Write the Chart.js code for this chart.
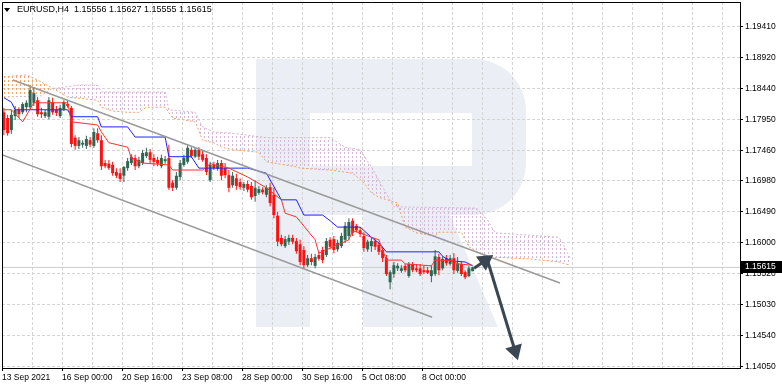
<!DOCTYPE html>
<html>
<head>
<meta charset="utf-8">
<script src="https://cdn.jsdelivr.net/npm/chart.js@4.4.1/dist/chart.umd.min.js"></script>
<style>
  html, body { margin: 0; padding: 0; background: #fff; }
  #wrap { width: 782px; height: 389px; }
</style>
</head>
<body>
<div id="wrap"><canvas id="chart" width="782" height="389"></canvas></div>
<script>
// EURUSD H4, one candle every 4 hours from 13 Sep 2021
const opens = [
  1.1806, 1.1797, 1.1778, 1.1800, 1.1810, 1.1806, 1.1814, 1.1814, 1.1821, 1.1825,
  1.1806, 1.1800, 1.1799, 1.1822, 1.1810, 1.1800, 1.1811, 1.1819, 1.1813, 1.1766,
  1.1753, 1.1755, 1.1753, 1.1762, 1.1753, 1.1773, 1.1762, 1.1726, 1.1725, 1.1723,
  1.1712, 1.1710, 1.1706, 1.1718, 1.1726, 1.1734, 1.1721, 1.1726, 1.1737, 1.1743,
  1.1734, 1.1731, 1.1721, 1.1729, 1.1734, 1.1695, 1.1687, 1.1704, 1.1723, 1.1728,
  1.1747, 1.1736, 1.1747, 1.1740, 1.1734, 1.1699, 1.1723, 1.1717, 1.1726, 1.1718,
  1.1707, 1.1691, 1.1702, 1.1696, 1.1687, 1.1693, 1.1690, 1.1674, 1.1679, 1.1684,
  1.1676, 1.1688, 1.1676, 1.1643, 1.1608, 1.1595, 1.1602, 1.1608, 1.1603, 1.1598,
  1.1589, 1.1565, 1.1576, 1.1564, 1.1581, 1.1589, 1.1581, 1.1605, 1.1606, 1.1590,
  1.1595, 1.1605, 1.1611, 1.1635, 1.1627, 1.1620, 1.1611, 1.1590, 1.1595, 1.1603,
  1.1597, 1.1589, 1.1576, 1.1538, 1.1551, 1.1560, 1.1556, 1.1564, 1.1548, 1.1567,
  1.1560, 1.1560, 1.1557, 1.1557, 1.1548, 1.1551, 1.1578, 1.1560, 1.1576, 1.1567,
  1.1576, 1.1556, 1.1567, 1.1554, 1.1548, 1.15556
];
const highs = [
  1.1813, 1.1802, 1.1810, 1.1816, 1.1814, 1.1822, 1.1825, 1.1849, 1.1846, 1.1830,
  1.1813, 1.1810, 1.1830, 1.1829, 1.1816, 1.1818, 1.1825, 1.1825, 1.1816, 1.1770,
  1.1767, 1.1762, 1.1769, 1.1767, 1.1781, 1.1781, 1.1770, 1.1731, 1.1731, 1.1728,
  1.1718, 1.1718, 1.1721, 1.1734, 1.1740, 1.1739, 1.1736, 1.1747, 1.1750, 1.1748,
  1.1740, 1.1736, 1.1739, 1.1737, 1.1755, 1.1699, 1.1712, 1.1731, 1.1739, 1.1755,
  1.1751, 1.1750, 1.1751, 1.1747, 1.1740, 1.1728, 1.1728, 1.1731, 1.1731, 1.1726,
  1.1715, 1.1712, 1.1709, 1.1702, 1.1696, 1.1698, 1.1696, 1.1699, 1.1690, 1.1688,
  1.1691, 1.1695, 1.1687, 1.1649, 1.1613, 1.1611, 1.1613, 1.1613, 1.1608, 1.1605,
  1.1595, 1.1581, 1.1583, 1.1583, 1.1586, 1.1594, 1.1608, 1.1609, 1.1611, 1.1605,
  1.1616, 1.1633, 1.1639, 1.1639, 1.1630, 1.1625, 1.1617, 1.1605, 1.1608, 1.1606,
  1.1602, 1.1594, 1.1581, 1.1557, 1.1570, 1.1568, 1.1565, 1.1567, 1.1570, 1.1570,
  1.1567, 1.1567, 1.1564, 1.1562, 1.1564, 1.1589, 1.1583, 1.1579, 1.1581, 1.1581,
  1.1584, 1.1578, 1.1570, 1.1557, 1.1564, 1.15627
];
const lows = [
  1.1770, 1.1769, 1.1772, 1.1794, 1.1797, 1.1803, 1.1806, 1.1811, 1.1816, 1.1799,
  1.1797, 1.1797, 1.1795, 1.1802, 1.1800, 1.1797, 1.1808, 1.1813, 1.1751, 1.1747,
  1.1748, 1.1750, 1.1748, 1.1751, 1.1750, 1.1758, 1.1715, 1.1718, 1.1715, 1.1706,
  1.1702, 1.1696, 1.1696, 1.1714, 1.1723, 1.1715, 1.1718, 1.1723, 1.1734, 1.1726,
  1.1721, 1.1721, 1.1718, 1.1725, 1.1684, 1.1682, 1.1684, 1.1699, 1.1720, 1.1725,
  1.1734, 1.1734, 1.1731, 1.1728, 1.1707, 1.1696, 1.1715, 1.1714, 1.1699, 1.1702,
  1.1680, 1.1687, 1.1684, 1.1684, 1.1682, 1.1680, 1.1668, 1.1665, 1.1676, 1.1677,
  1.1672, 1.1658, 1.1639, 1.1595, 1.1595, 1.1592, 1.1597, 1.1598, 1.1583, 1.1565,
  1.1560, 1.1562, 1.1565, 1.1560, 1.1572, 1.1568, 1.1578, 1.1590, 1.1584, 1.1586,
  1.1592, 1.1600, 1.1605, 1.1611, 1.1617, 1.1609, 1.1586, 1.1586, 1.1586, 1.1589,
  1.1581, 1.1570, 1.1548, 1.1527, 1.1545, 1.1556, 1.1553, 1.1554, 1.1545, 1.1554,
  1.1554, 1.1548, 1.1551, 1.1551, 1.1538, 1.1548, 1.1549, 1.1557, 1.1564, 1.1564,
  1.1551, 1.1553, 1.1548, 1.1543, 1.1546, 1.15555
];
const closes = [
  1.1778, 1.1773, 1.1802, 1.1810, 1.1803, 1.1819, 1.1821, 1.1841, 1.1836, 1.1803,
  1.1803, 1.1806, 1.1825, 1.1806, 1.1805, 1.1813, 1.1822, 1.1816, 1.1756, 1.1753,
  1.1762, 1.1758, 1.1764, 1.1755, 1.1775, 1.1762, 1.1721, 1.1721, 1.1718, 1.1710,
  1.1706, 1.1701, 1.1720, 1.1729, 1.1736, 1.1721, 1.1731, 1.1742, 1.1743, 1.1731,
  1.1728, 1.1725, 1.1734, 1.1732, 1.1687, 1.1687, 1.1706, 1.1726, 1.1734, 1.1750,
  1.1737, 1.1747, 1.1736, 1.1731, 1.1712, 1.1723, 1.1718, 1.1726, 1.1706, 1.1707,
  1.1687, 1.1706, 1.1690, 1.1688, 1.1693, 1.1684, 1.1672, 1.1687, 1.1685, 1.1680,
  1.1687, 1.1663, 1.1644, 1.1602, 1.1598, 1.1606, 1.1608, 1.1602, 1.1587, 1.1570,
  1.1565, 1.1576, 1.1570, 1.1578, 1.1575, 1.1573, 1.1603, 1.1594, 1.1589, 1.1600,
  1.1611, 1.1627, 1.1633, 1.1616, 1.1620, 1.1614, 1.1592, 1.1602, 1.1603, 1.1594,
  1.1586, 1.1576, 1.1551, 1.1554, 1.1565, 1.1564, 1.1560, 1.1557, 1.1567, 1.1557,
  1.1557, 1.1551, 1.1554, 1.1553, 1.1557, 1.1579, 1.1557, 1.1575, 1.1568, 1.1576,
  1.1557, 1.1568, 1.1551, 1.1546, 1.1560, 1.15615
];

// Ichimoku lines, read at their turning points (bar index, price)
const tenkanIdx = [0, 2, 5, 8, 17, 18, 25, 26, 28, 33, 34, 37, 44, 45, 53, 55, 60, 65, 70, 74, 75, 78, 83, 84, 92, 93, 95, 98, 100, 102, 106, 107, 114, 115, 120, 121, 125];
const tenkanVal = [1.1810, 1.1810, 1.1791, 1.1821, 1.1821, 1.1791, 1.1786, 1.1775, 1.1758, 1.1751, 1.1734, 1.1726, 1.1723, 1.1715, 1.1715, 1.1725, 1.1718, 1.1704, 1.1687, 1.1668, 1.1647, 1.1641, 1.1605, 1.1584, 1.1605, 1.1619, 1.1616, 1.1609, 1.1605, 1.1573, 1.1573, 1.1567, 1.1564, 1.1573, 1.1572, 1.1567, 1.1565];
const kijunIdx = [0, 2, 3, 17, 18, 25, 26, 33, 35, 43, 44, 50, 52, 65, 70, 74, 78, 80, 85, 87, 89, 95, 98, 100, 102, 116, 117, 119, 123, 125];
const kijunVal = [1.1829, 1.1822, 1.1810, 1.1810, 1.1799, 1.1799, 1.1783, 1.1783, 1.1767, 1.1767, 1.1736, 1.1736, 1.1718, 1.1718, 1.1710, 1.1668, 1.1668, 1.1644, 1.1644, 1.1635, 1.1625, 1.1625, 1.1609, 1.1600, 1.1586, 1.1586, 1.1579, 1.1572, 1.1570, 1.1564];
const spanAIdx = [0, 6, 9, 13, 17, 25, 26, 29, 33, 36, 38, 43, 45, 51, 53, 56, 58, 61, 68, 70, 78, 79, 87, 93, 96, 98, 100, 105, 107, 110, 115, 116, 122, 124, 127, 129, 140, 148, 151];
const spanAVal = [1.1862, 1.1865, 1.1857, 1.1844, 1.1830, 1.1825, 1.1814, 1.1808, 1.1806, 1.1806, 1.1814, 1.1814, 1.1797, 1.1791, 1.1762, 1.1758, 1.1751, 1.1747, 1.1743, 1.1728, 1.1720, 1.1718, 1.1715, 1.1710, 1.1695, 1.1679, 1.1672, 1.1663, 1.1625, 1.1616, 1.1611, 1.1617, 1.1617, 1.1594, 1.1584, 1.1578, 1.1575, 1.1570, 1.1565];
const spanBIdx = [0, 10, 13, 14, 20, 25, 26, 43, 44, 51, 53, 56, 61, 70, 87, 91, 95, 98, 104, 126, 129, 131, 148, 149, 151];
const spanBVal = [1.1830, 1.1832, 1.1844, 1.1844, 1.1849, 1.1849, 1.1838, 1.1838, 1.1810, 1.1806, 1.1783, 1.1775, 1.1773, 1.1766, 1.1766, 1.1751, 1.1747, 1.1720, 1.1657, 1.1655, 1.1636, 1.1616, 1.1609, 1.1600, 1.1576];

// hand drawn channel and forecast arrows
const channelUpper = [{x: 2.4, y: 1.1857}, {x: 148.3, y: 1.1537}];
const channelLower = [{x: -0.5, y: 1.1739}, {x: 114.2, y: 1.1483}];
const arrowUp = [{x: 125.4, y: 1.1560}, {x: 128.3, y: 1.1572}];
const arrowDown = [{x: 128.8, y: 1.1576}, {x: 136.3, y: 1.1430}];

const yTicks = [1.19410, 1.18920, 1.18440, 1.17950, 1.17460, 1.16980, 1.16490, 1.16000, 1.15520, 1.15030, 1.14540, 1.14050];
const xLabels = ['13 Sep 2021', '16 Sep 00:00', '20 Sep 16:00', '23 Sep 08:00', '28 Sep 00:00', '30 Sep 16:00', '5 Oct 08:00', '8 Oct 00:00'];
const titleText = 'EURUSD,H4  1.15556 1.15627 1.15555 1.15615';
const lastPrice = 1.15615;

const bullColor = '#2f6652';
const bearColor = '#ff1010';
const fontFamily = "'Liberation Sans', Arial, sans-serif";

const canvas = document.getElementById('chart');
const ctx = canvas.getContext('2d');

function pts(idx, vals) {
  return idx.map((x, k) => ({x: x, y: vals[k]}));
}

// vertical dotted hatching like the MT4 cloud
function hatch(color) {
  const c = document.createElement('canvas');
  c.width = 4;
  c.height = 4;
  const g = c.getContext('2d');
  g.fillStyle = color;
  g.fillRect(0, 0, 1, 2);
  return ctx.createPattern(c, 'repeat');
}

// no extra room for the end labels, the plot runs edge to edge
function noPad(scale) {
  scale.paddingLeft = 0;
  scale.paddingRight = 0;
  scale.paddingTop = 0;
  scale.paddingBottom = 0;
}

const candleColors = opens.map((o, i) => closes[i] >= o ? bullColor : bearColor);
const gridPos = [];
for (let k = 0; k <= 24; k++) gridPos.push(-0.5 + 8 * k);

// RoboForex watermark behind the grid
const watermark = {
  id: 'watermark',
  beforeDraw(chart) {
    const g = chart.ctx;
    g.save();
    g.fillStyle = '#ebeff5';
    g.fillRect(256, 59, 54, 268);
    g.beginPath();
    g.moveTo(310, 59);
    g.lineTo(474, 59);
    g.arcTo(526, 59, 526, 111, 52);
    g.lineTo(526, 163);
    g.arcTo(526, 215, 474, 215, 52);
    g.lineTo(310, 215);
    g.closePath();
    g.rect(310, 113, 162, 53);
    g.fill('evenodd');
    g.beginPath();
    g.moveTo(363, 215);
    g.lineTo(450, 215);
    g.lineTo(498, 327);
    g.lineTo(363, 327);
    g.closePath();
    g.fill();
    g.restore();
  }
};

// frame, title line and the price tag on the axis
const decorations = {
  id: 'decorations',
  afterDraw(chart) {
    const g = chart.ctx;
    const area = chart.chartArea;
    g.save();
    g.strokeStyle = '#000';
    g.lineWidth = 1;
    g.beginPath();
    g.moveTo(area.left + 0.5, area.bottom);
    g.lineTo(area.left + 0.5, area.top + 0.5);
    g.lineTo(area.right, area.top + 0.5);
    g.stroke();

    g.fillStyle = '#000';
    g.beginPath();
    g.moveTo(4, 8);
    g.lineTo(10, 8);
    g.lineTo(7, 12);
    g.closePath();
    g.fill();
    g.font = '9px ' + fontFamily;
    g.textBaseline = 'middle';
    g.fillText(titleText, 17, 10);

    const y = chart.scales.y.getPixelForValue(lastPrice);
    g.fillRect(area.right + 1, Math.round(y) - 6, 41, 12);
    g.fillStyle = '#fff';
    g.font = '8.5px ' + fontFamily;
    g.fillText(lastPrice.toFixed(5), area.right + 5, Math.round(y));
    g.restore();
  }
};

new Chart(ctx, {
  type: 'bar',
  data: {
    datasets: [
      {
        type: 'line',
        data: [{x: -0.5, y: lastPrice}, {x: 196.3, y: lastPrice}],
        borderColor: '#cccccc',
        borderWidth: 1,
        pointRadius: 0,
        order: 6
      },
      {
        type: 'line',
        label: 'Senkou Span A',
        data: pts(spanAIdx, spanAVal),
        borderColor: '#f4a460',
        borderWidth: 1,
        borderDash: [2, 2],
        pointRadius: 0,
        fill: {target: 2, above: hatch('#f4a460'), below: hatch('#d3b6d3')},
        order: 5
      },
      {
        type: 'line',
        label: 'Senkou Span B',
        data: pts(spanBIdx, spanBVal),
        borderColor: '#d2b4d2',
        borderWidth: 1,
        borderDash: [2, 2],
        pointRadius: 0,
        order: 5
      },
      {
        label: 'wicks',
        data: opens.map((o, i) => ({x: i, y: [lows[i], highs[i]]})),
        backgroundColor: candleColors,
        barThickness: 1,
        grouped: false,
        inflateAmount: 0,
        order: 4
      },
      {
        label: 'bodies',
        data: opens.map((o, i) => ({x: i, y: [o, closes[i]]})),
        backgroundColor: candleColors,
        barThickness: 3,
        minBarLength: 1,
        grouped: false,
        inflateAmount: 0,
        order: 3
      },
      {
        type: 'line',
        label: 'Tenkan-sen',
        data: pts(tenkanIdx, tenkanVal),
        borderColor: '#ff3030',
        borderWidth: 1,
        pointRadius: 0,
        order: 2
      },
      {
        type: 'line',
        label: 'Kijun-sen',
        data: pts(kijunIdx, kijunVal),
        borderColor: '#2020ff',
        borderWidth: 1,
        pointRadius: 0,
        order: 2
      },
      {
        type: 'line',
        data: channelUpper,
        borderColor: '#9a9a9a',
        borderWidth: 1.5,
        pointRadius: 0,
        order: 1
      },
      {
        type: 'line',
        data: channelLower,
        borderColor: '#9a9a9a',
        borderWidth: 1.5,
        pointRadius: 0,
        order: 1
      },
      {
        type: 'line',
        data: arrowUp,
        borderColor: '#3a4752',
        backgroundColor: '#3a4752',
        borderWidth: 3,
        pointStyle: 'triangle',
        pointRadius: [0, 7],
        rotation: 55,
        order: 0
      },
      {
        type: 'line',
        data: arrowDown,
        borderColor: '#3a4752',
        backgroundColor: '#3a4752',
        borderWidth: 3,
        pointStyle: 'triangle',
        pointRadius: [0, 7],
        rotation: 163,
        order: 0
      }
    ]
  },
  options: {
    responsive: false,
    animation: false,
    devicePixelRatio: 1,
    layout: {autoPadding: false, padding: {left: 2, top: 2, right: 0, bottom: 0}},
    plugins: {legend: {display: false}, tooltip: {enabled: false}},
    scales: {
      x: {
        type: 'linear',
        min: -0.5,
        max: 196.3,
        offset: false,
        afterBuildTicks: (scale) => { scale.ticks = gridPos.map(v => ({value: v})); },
        afterFit: (scale) => { scale.height = 21; noPad(scale); },
        grid: {
          offset: false,
          color: '#d4d4d4',
          tickLength: 3,
          tickColor: (c) => (c.index % 2 === 0 && c.index / 2 < xLabels.length) ? '#000' : 'rgba(0,0,0,0)'
        },
        border: {display: true, color: '#000', width: 1, dash: [3, 2]},
        ticks: {
          autoSkip: false,
          maxRotation: 0,
          align: 'start',
          padding: 2,
          color: '#000',
          font: {family: fontFamily, size: 8.5},
          callback: (v, i) => (i % 2 === 0 && xLabels[i / 2]) ? xLabels[i / 2] : ''
        }
      },
      y: {
        type: 'linear',
        position: 'right',
        min: 1.14029,
        max: 1.19799,
        afterBuildTicks: (scale) => { scale.ticks = yTicks.map(v => ({value: v})); },
        afterFit: (scale) => { scale.width = 42; noPad(scale); },
        grid: {color: '#d4d4d4', tickLength: 3, tickColor: '#000'},
        border: {display: true, color: '#000', width: 1, dash: [3, 2]},
        ticks: {
          padding: 2,
          color: '#000',
          font: {family: fontFamily, size: 8.5},
          callback: (v) => Number(v).toFixed(5)
        }
      }
    }
  },
  plugins: [watermark, decorations]
});
</script>
</body>
</html>
